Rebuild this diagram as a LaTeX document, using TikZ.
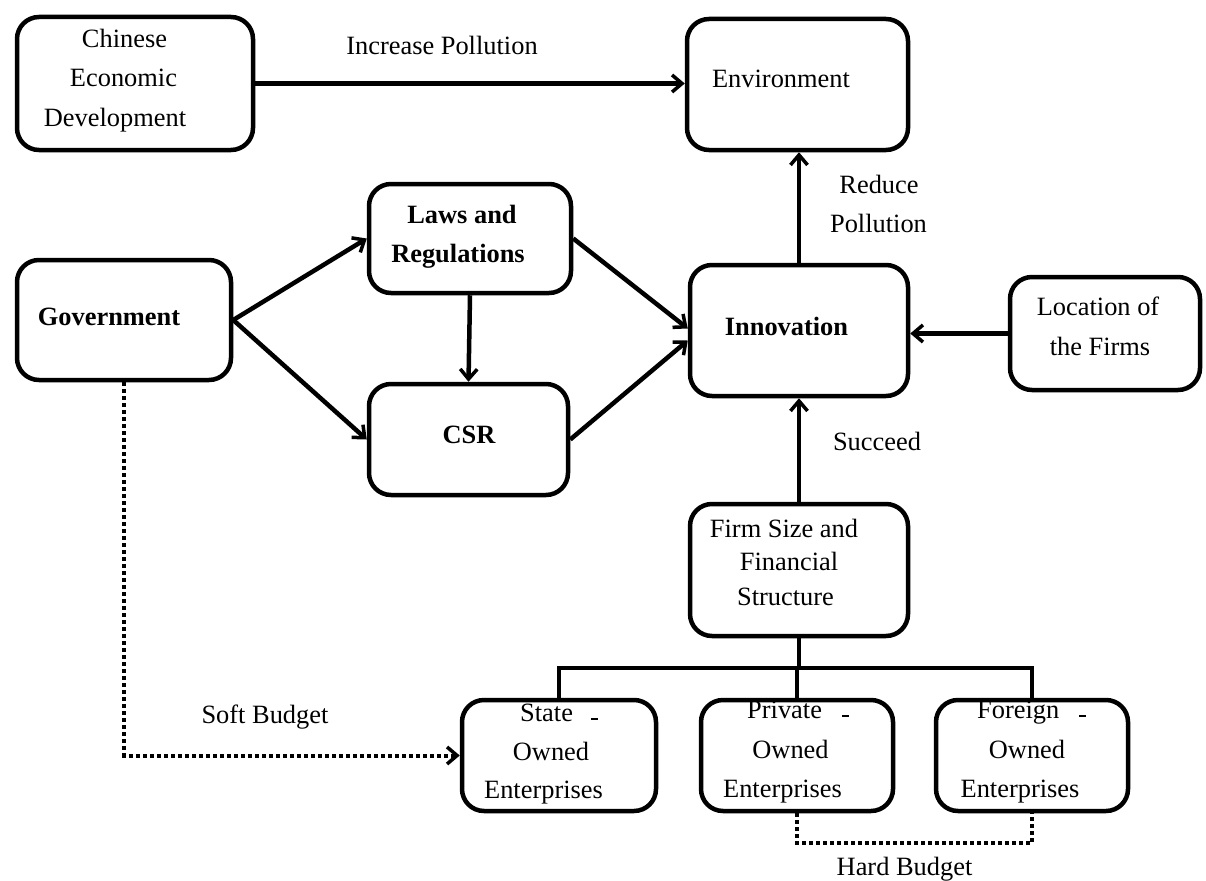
\documentclass[tikz,border=0pt]{standalone}
\usepackage{fontspec}
\setmainfont{Liberation Serif}
\usetikzlibrary{arrows.meta,calc}
\begin{document}
\begin{tikzpicture}[x=1pt,y=-1pt,
  box/.style={draw, line width=4.5pt, rounded corners=22pt, inner sep=0pt},
  txt/.style={font=\fontsize{26.4}{39}\selectfont, inner sep=0pt, anchor=base},
  btxt/.style={font=\fontsize{26.4}{39}\selectfont\bfseries, inner sep=0pt, anchor=base},
  conn/.style={line width=4.5pt, -{Straight Barb[length=10pt,width=17pt,line width=3.5pt]}},
  treeline/.style={line width=4.5pt},
  dots/.style={line width=4pt, dash pattern=on 4pt off 3pt},
  dotarrow/.style={dots, -{Straight Barb[length=10pt,width=17pt,line width=3.5pt]}},
]
\useasboundingbox (0,0) rectangle (1206,880);

% boxes
\node[box, minimum width=236, minimum height=133] (chinese) at (135,83.5) {};
\node[box, minimum width=221, minimum height=131] (env) at (797.5,84.5) {};
\node[box, minimum width=202, minimum height=109] (laws) at (470,238.5) {};
\node[box, minimum width=214, minimum height=120] (gov) at (124,320) {};
\node[box, minimum width=199, minimum height=111] (csr) at (468.5,439.5) {};
\node[box, minimum width=218, minimum height=131] (innov) at (799,330.5) {};
\node[box, minimum width=190, minimum height=113] (loc) at (1105,333.5) {};
\node[box, minimum width=218, minimum height=132] (firm) at (799,570) {};
\node[box, minimum width=194, minimum height=111] (state) at (559,755.5) {};
\node[box, minimum width=192, minimum height=111] (private) at (797,755.5) {};
\node[box, minimum width=192, minimum height=111] (foreign) at (1032,755.5) {};

% texts
\node[txt] (t1) at (124.5,48) {Chinese};
\node[txt] (t2) at (123.5,87) {Economic};
\node[txt] (t3) at (115,127) {Development};
\node[txt] (t4) at (442,55) {Increase Pollution};
\node[txt] (t5) at (781,88) {Environment};
\node[btxt] (t6) at (462,223) {Laws and};
\node[btxt] (t7) at (458,262) {Regulations};
\node[btxt] (t8) at (109,325) {Government};
\node[btxt] (t9) at (469,443) {CSR};
\node[btxt] (t10) at (786.5,335) {Innovation};
\node[txt] (t11) at (879,193) {Reduce};
\node[txt] (t12) at (878.5,232) {Pollution};
\node[txt] (t13) at (1098,315) {Location of};
\node[txt] (t14) at (1100,355) {the Firms};
\node[txt] (t15) at (877,450) {Succeed};
\node[txt] (t16) at (784,537) {Firm Size and};
\node[txt] (t17) at (789,570) {Financial};
\node[txt] (t18) at (785.5,605) {Structure};
\node[txt] (t19) at (265,723) {Soft Budget};
\node[txt, anchor=base west] (t20) at (520,721) {State\hspace{18pt}\rule[1pt]{7pt}{2.5pt}};
\node[txt] (t21) at (551,760) {Owned};
\node[txt] (t22) at (543.5,798) {Enterprises};
\node[txt, anchor=base west] (t23) at (747,718) {Private\hspace{20pt}\rule[1pt]{7pt}{2.5pt}};
\node[txt] (t24) at (790.5,758) {Owned};
\node[txt] (t25) at (782.5,797) {Enterprises};
\node[txt, anchor=base west] (t26) at (977,718) {Foreign\hspace{20pt}\rule[1pt]{7pt}{2.5pt}};
\node[txt] (t27) at (1027,758) {Owned};
\node[txt] (t28) at (1020,797) {Enterprises};
\node[txt] (t29) at (904.5,875) {Hard Budget};

% connectors
\draw[conn] (chinese.east) -- (chinese.east -| env.west);
\draw[conn] (gov.east) -- (laws.west);
\draw[conn] (gov.east) -- (csr.west);
\draw[conn] (laws.south) -- (csr.north);
\draw[conn] (laws.east) -- ([yshift=2pt]innov.west);
\draw[conn] (csr.east) -- ([yshift=-10pt]innov.west);
\draw[conn] (loc.west) -- (loc.west -| innov.east);
\draw[conn] (firm.north) -- (innov.south);
\draw[conn] (innov.north) -- (innov.north |- env.south);

% tree
\coordinate (tj) at (798,668);
\draw[treeline] (firm.south) -- (firm.south |- tj);
\draw[treeline] (state.north) -- (state.north |- tj) -- (foreign.north |- tj) -- (foreign.north);
\draw[treeline] (private.north) -- (private.north |- tj);

% budgets
\coordinate (sb) at (124,755.5);
\draw[dotarrow] (gov.south) -- (sb) -- (state.west);
\coordinate (hb) at (915,843);
\draw[dots] (private.south) -- (private.south |- hb) -- (foreign.south |- hb) -- (foreign.south);
\end{tikzpicture}
\end{document}
